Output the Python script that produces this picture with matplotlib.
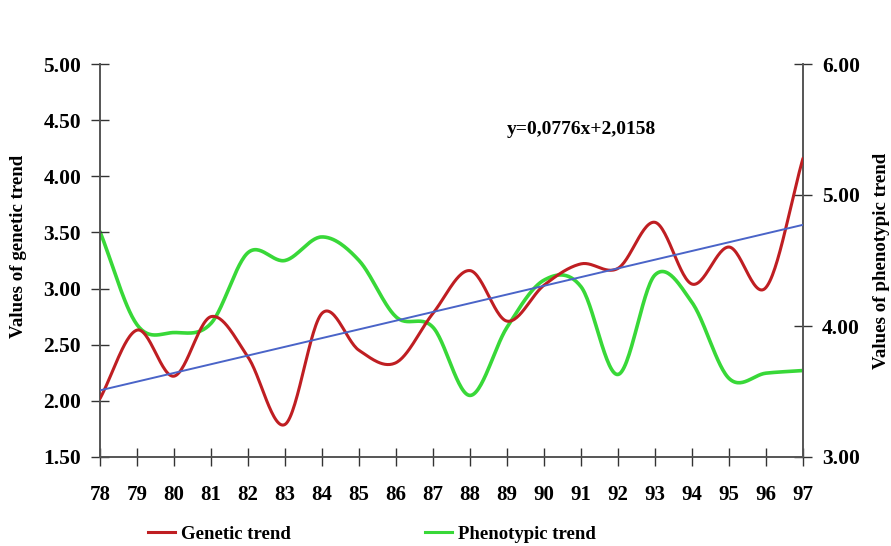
import numpy as np
import matplotlib
matplotlib.use("Agg")
import matplotlib.pyplot as plt
from matplotlib.lines import Line2D

years = ["78", "79", "80", "81", "82", "83", "84", "85", "86", "87",
         "88", "89", "90", "91", "92", "93", "94", "95", "96", "97"]
genetic = [2.02, 2.63, 2.22, 2.75, 2.39, 1.79, 2.78, 2.45, 2.34, 2.78,
           3.16, 2.71, 3.03, 3.22, 3.18, 3.59, 3.04, 3.37, 3.01, 4.16]
phenotypic = [4.72, 4.01, 3.95, 4.02, 4.56, 4.50, 4.68, 4.50, 4.07, 3.99,
              3.47, 3.99, 4.35, 4.30, 3.63, 4.39, 4.18, 3.60, 3.64, 3.66]
slope, intercept = 0.0776, 2.0158
left_ticks = [1.5, 2.0, 2.5, 3.0, 3.5, 4.0, 4.5, 5.0]
right_ticks = [3.0, 4.0, 5.0, 6.0]

serif = "Liberation Serif"
RED = "#bf1e22"
GREEN = "#38d838"
BLUE = "#4a64c8"


def smooth(y, n=30):
    """Catmull-Rom smoothing for drawing (like a spreadsheet smoothed line)."""
    y = np.asarray(y, float)
    x = np.arange(len(y), dtype=float)
    P = np.concatenate([[2 * y[0] - y[1]], y, [2 * y[-1] - y[-2]]])
    xs, ys = [], []
    for i in range(len(y) - 1):
        p0, p1, p2, p3 = P[i], P[i + 1], P[i + 2], P[i + 3]
        t = np.linspace(0, 1, n, endpoint=(i == len(y) - 2))
        yy = 0.5 * ((2 * p1) + (-p0 + p2) * t + (2 * p0 - 5 * p1 + 4 * p2 - p3) * t ** 2
                    + (-p0 + 3 * p1 - 3 * p2 + p3) * t ** 3)
        xs.append(x[i] + t)
        ys.append(yy)
    return np.concatenate(xs), np.concatenate(ys)


fig = plt.figure(figsize=(8.91, 5.46), dpi=100)
ax = fig.add_axes([100 / 891, 1 - 457 / 546, 703 / 891, 393 / 546])
ax2 = ax.twinx()

x = np.arange(len(years))
gx, gy = smooth(genetic)
px, py = smooth(phenotypic)

ax2.plot(px, py, color=GREEN, lw=2.6, solid_capstyle="round", zorder=2)
ax.plot(gx, gy, color=RED, lw=2.2, solid_capstyle="round", zorder=3)
reg = slope * (x + 1) + intercept
ax.plot(x, reg, color=BLUE, lw=1.4, zorder=4)
ax.set_zorder(ax2.get_zorder() + 1)
ax.patch.set_visible(False)

ax.set_xlim(0, len(years) - 1)
ax.set_ylim(1.5, 5.0)
ax2.set_ylim(3.0, 6.0)
ax.set_xticks(x)
ax.set_xticklabels(years)
ax.set_yticks(left_ticks)
ax.set_yticklabels([f"{v:.2f}" for v in left_ticks])
ax2.set_yticks(right_ticks)
ax2.set_yticklabels([f"{v:.2f}" for v in right_ticks])

for a in (ax, ax2):
    a.spines["top"].set_visible(False)
    for s in ("left", "right", "bottom"):
        a.spines[s].set_color("#555555")
        a.spines[s].set_linewidth(1.2)

ax.tick_params(axis="both", direction="inout", length=13, width=1.0, color="#333333")
ax.tick_params(axis="x", pad=14, labelsize=15)
ax.tick_params(axis="y", pad=7, labelsize=15.5)
ax2.tick_params(axis="y", direction="inout", length=13, width=1.0, color="#333333",
                pad=7, labelsize=15.5)
for lab in ax.get_xticklabels() + ax.get_yticklabels() + ax2.get_yticklabels():
    lab.set_fontfamily(serif)
    lab.set_fontweight("bold")

ax.set_ylabel("Values of genetic trend", fontfamily=serif, fontweight="bold",
              fontsize=13.6)
ax.yaxis.set_label_coords(-73 / 703, (457 - 246) / 393)
ax2.set_ylabel("Values of phenotypic trend", fontfamily=serif, fontweight="bold",
               fontsize=13.6)
ax2.yaxis.set_label_coords(1 + 70 / 703, 0.5)

ax.text(507 / 891, 1 - 130 / 546, "y=0,0776x+2,0158", transform=fig.transFigure,
        fontfamily=serif, fontweight="bold", fontsize=14, ha="left", va="center")

leg_prop = {"family": serif, "weight": "bold", "size": 13.5}
leg1 = fig.legend([Line2D([], [], color=RED, lw=2.2)], ["Genetic trend"],
                  loc="center left", bbox_to_anchor=(131 / 891, 1 - 534 / 546),
                  frameon=False, prop=leg_prop, handlelength=1.45, handletextpad=0.3)
leg2 = fig.legend([Line2D([], [], color=GREEN, lw=2.2)], ["Phenotypic trend"],
                  loc="center left", bbox_to_anchor=(408 / 891, 1 - 534 / 546),
                  frameon=False, prop=leg_prop, handlelength=1.45, handletextpad=0.3)

fig.savefig("out.png", dpi=100)
